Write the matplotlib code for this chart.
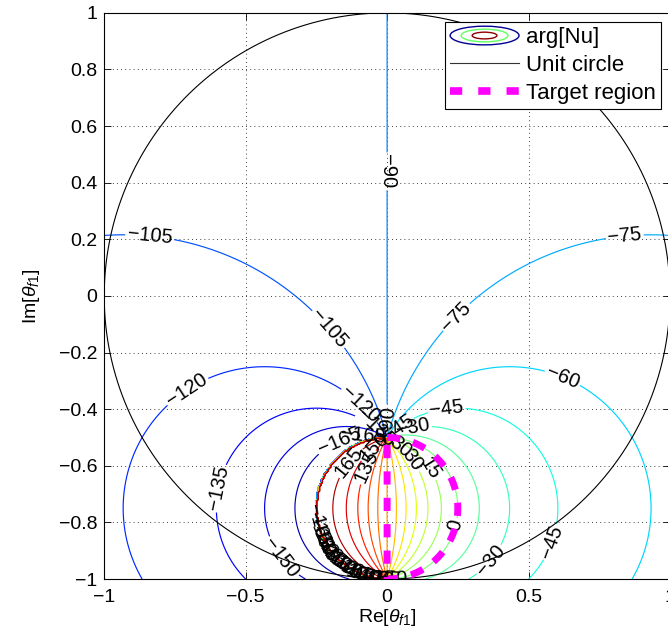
import numpy as np
import matplotlib
matplotlib.use('Agg')
import matplotlib.pyplot as plt
from matplotlib.patches import Ellipse
from matplotlib.legend_handler import HandlerBase
from matplotlib.lines import Line2D

# ---------------- data ----------------
pole_point = -0.5j          # contours converge here
zero_point = -1.0j          # and here
phase_offset_deg = -90.0
levels_deg = np.arange(-180, 181, 15)
x_limits = [-1.0, 1.0]
y_limits = [-1.0, 1.0]
target_center = -0.75j
target_radius = 0.25
xtick_values = [-1, -0.5, 0, 0.5, 1]
ytick_values = [-1, -0.8, -0.6, -0.4, -0.2, 0, 0.2, 0.4, 0.6, 0.8, 1]
legend_labels = ['arg[Nu]', 'Unit circle', 'Target region']

# ---------------- style ----------------
plt.rcParams['font.family'] = ['Liberation Sans', 'DejaVu Sans']
plt.rcParams['mathtext.fontset'] = 'custom'
plt.rcParams['mathtext.rm'] = 'Liberation Sans'
plt.rcParams['mathtext.it'] = 'Liberation Sans:italic'

fig = plt.figure(figsize=(6.68, 6.43), dpi=100)
ax = fig.add_axes([0.156, 0.0995, 0.847, 0.8805])

n = 400
xs = np.linspace(x_limits[0], x_limits[1], n)
ys = np.linspace(y_limits[0], y_limits[1], n)
X, Y = np.meshgrid(xs, ys)
Z = X + 1j * Y
Nu = np.exp(1j * np.deg2rad(phase_offset_deg)) * (Z - zero_point) / (Z - pole_point)
A = np.degrees(np.angle(Nu))

cs = ax.contour(X, Y, A, levels=levels_deg, cmap='jet', vmin=-180, vmax=180,
                linewidths=0.85)

# label placement (layout only)
label_spots = [(-0.84, 0.20), (0.0, 0.44), (0.84, 0.21), (-0.21, -0.12),
               (0.24, -0.07), (-0.71, -0.33), (-0.10, -0.39), (-0.59, -0.68),
               (-0.38, -0.93), (-0.17, -0.51), (0.62, -0.29), (0.21, -0.40),
               (0.58, -0.87), (0.36, -0.93), (0.24, -0.81), (0.15, -0.61),
               (0.09, -0.58), (0.09, -0.46), (-0.13, -0.59), (-0.08, -0.60),
               (-0.04, -0.47), (0.04, -0.47), (-0.05, -0.53), (0.05, -0.53),
               (0.0, -0.45), (-0.09, -0.48)]
for ang in np.linspace(np.deg2rad(195), np.deg2rad(268), 14):
    p = target_center + (target_radius + 0.004) * np.exp(1j * ang)
    label_spots.append((p.real, p.imag))

ax.clabel(cs, fmt=lambda v: f'{int(round(v))}'.replace('-', '\u2212'),
          fontsize=14.5, colors='k', inline=True, inline_spacing=2,
          manual=label_spots)

# unit circle
t = np.linspace(0, 2 * np.pi, 500)
ax.plot(np.cos(t), np.sin(t), color='k', lw=0.8)

# target region (right half-disk boundary)
tt = np.linspace(np.pi / 2, -np.pi / 2, 200)
pts = target_center + target_radius * np.exp(1j * tt)
pts = np.concatenate([pts, [target_center + 1j * target_radius]])
ax.plot(pts.real, pts.imag, color='magenta', lw=5, linestyle=(0, (1.9, 1.9)),
        solid_capstyle='butt', dash_capstyle='butt', zorder=5)

ax.set_xlim(x_limits)
ax.set_ylim(y_limits)
ax.set_xticks(xtick_values)
ax.set_yticks(ytick_values)
ax.set_xticklabels([f'{v:g}'.replace('-', '\u2212') for v in xtick_values])
ax.set_yticklabels([f'{v:g}'.replace('-', '\u2212') for v in ytick_values])
ax.tick_params(direction='in', top=True, right=True, labelsize=14, length=5, width=0.6)
ax.tick_params(axis='x', pad=7)
ax.tick_params(axis='y', pad=5)
ax.grid(True, color='k', linestyle=(0, (1, 4)), linewidth=0.6)
for s in ax.spines.values():
    s.set_linewidth(0.8)
ax.set_xlabel(r'Re[$\theta_{f1}$]', fontsize=14, labelpad=1)
ax.set_ylabel(r'Im[$\theta_{f1}$]', fontsize=14, labelpad=12)


class ContourIcon:
    pass


class ContourIconHandler(HandlerBase):
    def create_artists(self, legend, orig_handle, xdescent, ydescent, width,
                       height, fontsize, trans):
        cx = width / 2 - xdescent
        cy = height / 2 - ydescent
        arts = []
        for frac, col in zip([1.0, 0.68, 0.36], ['#00008f', '#60ff60', '#8f0000']):
            e = Ellipse((cx, cy), width * frac, height * 1.2 * frac, fill=False,
                        edgecolor=col, lw=1.0, transform=trans)
            arts.append(e)
        return arts


h_contour = ContourIcon()
h_circle = Line2D([], [], color='#333333', lw=0.8)
h_target = Line2D([], [], color='magenta', lw=5.5, linestyle=(0, (1.6, 2.1)))
leg = ax.legend([h_contour, h_circle, h_target], legend_labels,
                handler_map={ContourIcon: ContourIconHandler()},
                loc='upper right', fontsize=16, handlelength=3.1,
                borderaxespad=0.4, fancybox=False, framealpha=1,
                edgecolor='k', borderpad=0.25, labelspacing=0.3, handletextpad=0.3)
leg.get_frame().set_linewidth(0.8)
leg.set_zorder(10)

fig.savefig('out.png', dpi=100)
